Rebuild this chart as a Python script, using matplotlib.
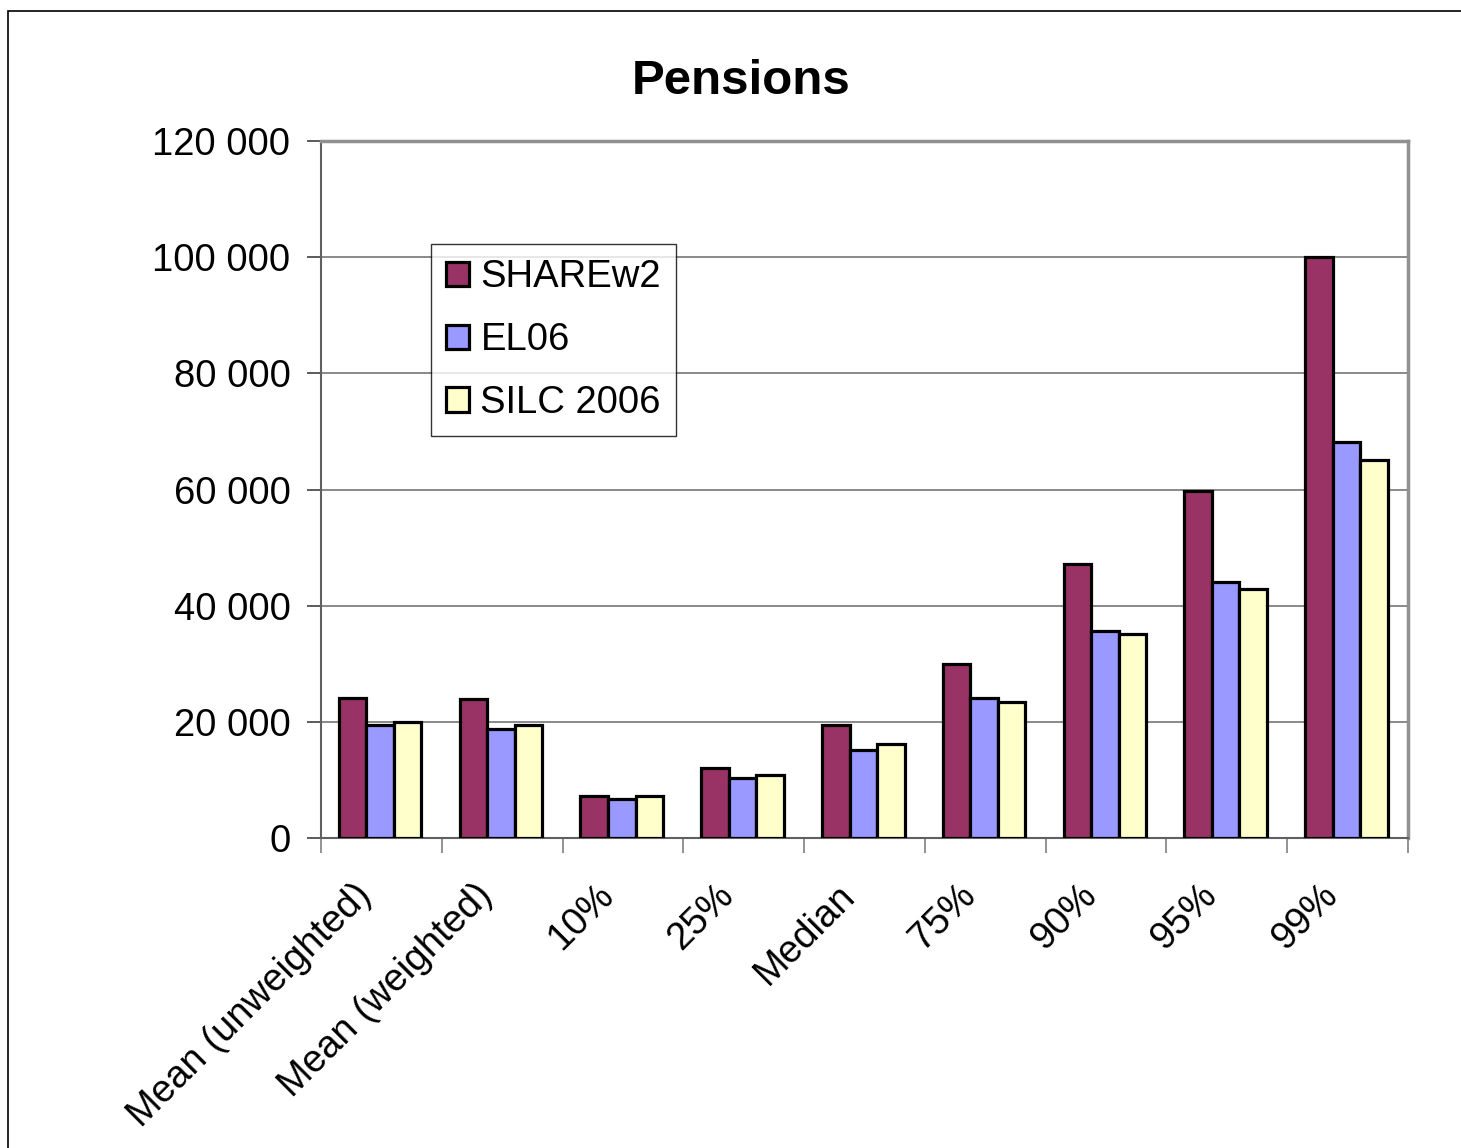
import matplotlib
matplotlib.use("Agg")
from matplotlib import pyplot as plt
from matplotlib.patches import Rectangle
from matplotlib.ticker import FuncFormatter
from matplotlib.transforms import ScaledTranslation
import numpy as np

plt.rcParams['font.family'] = ['Liberation Sans', 'DejaVu Sans']

# Data
categories = ["Mean (unweighted)", "Mean (weighted)", "10%", "25%", "Median",
              "75%", "90%", "95%", "99%"]
share_w2 = [24100, 24000, 7300, 12000, 19400, 29900, 47200, 59800, 100000]
el06 = [19400, 18800, 6800, 10400, 15200, 24100, 35700, 44000, 68100]
silc_2006 = [20000, 19400, 7300, 10900, 16200, 23500, 35100, 42900, 65000]

series = [("SHAREw2", share_w2, "#993366"),
          ("EL06", el06, "#9999FF"),
          ("SILC 2006", silc_2006, "#FFFFCC")]

fig = plt.figure(figsize=(14.61, 11.48), dpi=100)
ax = fig.add_axes([321 / 1461, 1 - 838 / 1148, 1087 / 1461, 697 / 1148])

x = np.arange(len(categories))
w = 0.228
for i, (name, vals, col) in enumerate(series):
    ax.bar(x + (i - 1) * w - 0.01, vals, width=w, color=col, edgecolor="black",
           linewidth=2.3, label=name, zorder=3)

ax.set_xlim(-0.5, len(categories) - 0.5)
ax.set_ylim(0, 120000)
ax.set_yticks(np.arange(0, 120001, 20000))
ax.yaxis.set_major_formatter(FuncFormatter(lambda v, p: f"{int(v):,}".replace(",", " ")))
ax.grid(axis="y", color="#808080", linewidth=1.3, zorder=0)

ax.set_xticks(x)
ax.set_xticks(np.arange(-0.5, len(categories), 1), minor=True)
ax.set_xticklabels(categories, rotation=45, ha="right", va="top",
                   rotation_mode="anchor", fontsize=27.5)
ax.tick_params(axis="x", which="major", length=0, pad=14)
ax.tick_params(axis="x", which="minor", length=11, width=1.2, color="#808080")
ax.tick_params(axis="y", labelsize=27.5, length=10, width=1.2, pad=12, color="#404040")
shift = ScaledTranslation(-0.28, -0.2, fig.dpi_scale_trans)
for lab in ax.get_xticklabels():
    lab.set_transform(lab.get_transform() + shift)

for s in ["top", "right"]:
    ax.spines[s].set_color("#909090")
    ax.spines[s].set_linewidth(2.5)
ax.spines["left"].set_color("#606060")
ax.spines["left"].set_linewidth(1.5)
ax.spines["bottom"].set_color("#606060")
ax.spines["bottom"].set_linewidth(1.5)

leg = ax.legend(loc="upper left", bbox_to_anchor=(0.101, 0.852), fontsize=27.5,
                frameon=True, fancybox=False, edgecolor="black",
                handlelength=0.6, handleheight=0.6, handletextpad=0.3,
                labelspacing=0.7, borderpad=0.4, borderaxespad=0)
leg.get_frame().set_linewidth(1.0)
leg.set_zorder(5)

fig.text(0.507, 1 - 81 / 1148, "Pensions", ha="center", va="center",
         fontsize=35.5, fontweight="bold")

# outer border of the chart area
fig.patches.append(Rectangle((8 / 1461, -0.1), 1.2, 1.1 - 11 / 1148,
                             transform=fig.transFigure, fill=False,
                             edgecolor="black", linewidth=1.2))

fig.savefig("out.png", dpi=100)
